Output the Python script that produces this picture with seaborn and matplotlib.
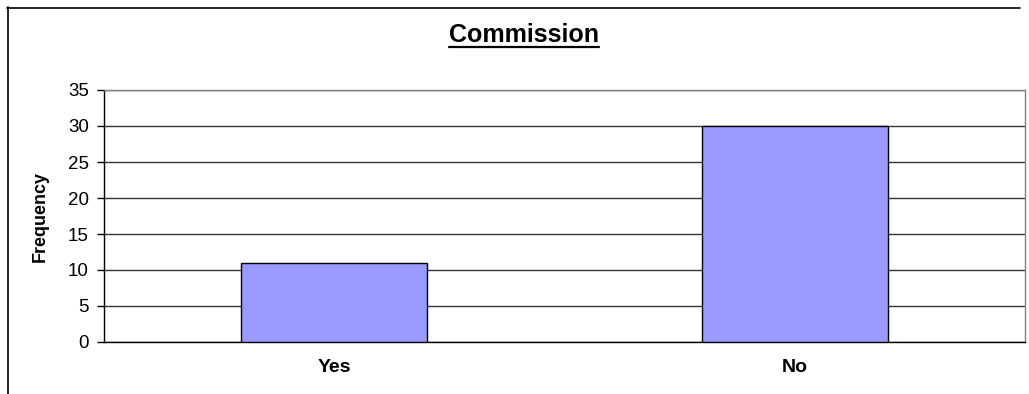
import matplotlib
matplotlib.use("Agg")
import matplotlib.pyplot as plt
from matplotlib.lines import Line2D
import seaborn as sns
import pandas as pd

# Survey answers and their counts
categories = ["Yes", "No"]
frequency = [11, 30]
y_ticks = [0, 5, 10, 15, 20, 25, 30, 35]

sns.set_style("white")
plt.rcParams["font.family"] = ["Liberation Sans", "DejaVu Sans"]
plt.rcParams["text.color"] = "black"
plt.rcParams["xtick.color"] = "black"
plt.rcParams["ytick.color"] = "black"
plt.rcParams["axes.labelcolor"] = "black"

W, H = 1029, 394
fig = plt.figure(figsize=(W / 100, H / 100), dpi=100)
fig.patch.set_facecolor("white")

# plot area placed in pixel terms
left, right, top, bottom = 104, 1025, 90, 342
ax = fig.add_axes([left / W, 1 - bottom / H, (right - left) / W, (bottom - top) / H])

df = pd.DataFrame({"answer": categories, "count": frequency})
sns.barplot(data=df, x="answer", y="count", color="#9999FF", saturation=1,
            edgecolor="black", linewidth=1.0, width=0.404, ax=ax, zorder=3)

ax.set_xlim(-0.5, len(categories) - 0.5)
ax.set_ylim(0, 35)
ax.set_yticks(y_ticks)
ax.set_yticklabels([str(t) for t in y_ticks], fontsize=13.5)

# horizontal gridlines
ax.yaxis.grid(True, color="#333333", linewidth=1.0)
ax.set_axisbelow(True)

ax.set_xlabel("")
ax.set_ylabel("")

# category labels and boundary tick marks
ax.set_xticks(range(len(categories)))
ax.set_xticklabels(categories, fontsize=14, fontweight="bold")
ax.set_xticks([i - 0.5 for i in range(len(categories) + 1)], minor=True)
ax.tick_params(axis="x", which="major", length=0, pad=12)
ax.tick_params(axis="x", which="minor", length=5, width=1, color="black", direction="out")
ax.tick_params(axis="y", which="major", length=5, width=1, color="black", direction="out",
               pad=6, left=True)

for side in ("left", "bottom"):
    ax.spines[side].set_color("black")
    ax.spines[side].set_linewidth(1.0)
for side in ("top", "right"):
    ax.spines[side].set_visible(True)
    ax.spines[side].set_color("#808080")
    ax.spines[side].set_linewidth(1.0)

# y axis title
fig.text(40 / W, 1 - 216 / H, "Frequency", rotation=90, ha="center", va="center",
         fontsize=13, fontweight="bold")

# chart title with underline
title = fig.text(524 / W, 1 - 42 / H, "Commission", ha="center", va="baseline",
                 fontsize=18, fontweight="bold")
fig.canvas.draw()
bb = title.get_window_extent(renderer=fig.canvas.get_renderer())
uy = (H - 47) / H
fig.add_artist(Line2D([bb.x0 / W, bb.x1 / W], [uy, uy], transform=fig.transFigure,
                      color="black", linewidth=1.6))

# chart-area frame
fig.add_artist(Line2D([7.5 / W, 7.5 / W], [1 - 7 / H, 0], transform=fig.transFigure,
                      color="black", linewidth=1.2))
fig.add_artist(Line2D([7 / W, 1020 / W], [1 - 7.5 / H, 1 - 7.5 / H], transform=fig.transFigure,
                      color="black", linewidth=1.2))

fig.savefig("out.png", dpi=100, facecolor="white")
